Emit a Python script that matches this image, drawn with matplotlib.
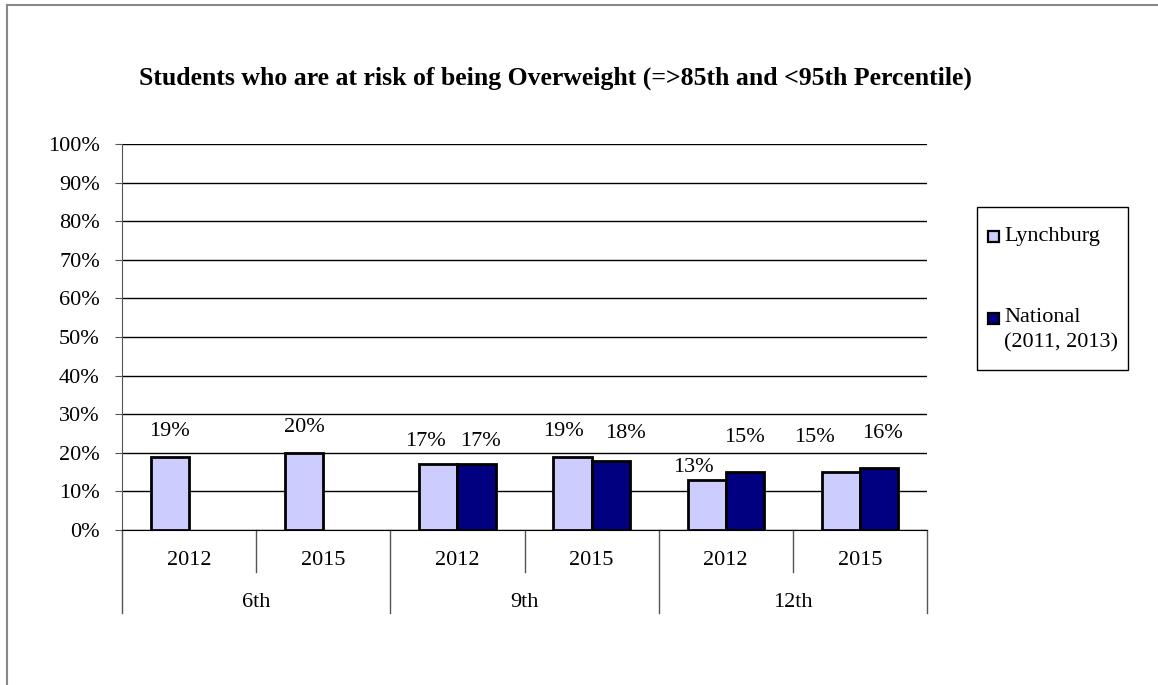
import matplotlib.pyplot as plt
import numpy as np
from matplotlib.patches import Rectangle
from matplotlib.lines import Line2D

plt.rcParams['font.family'] = ['Liberation Serif', 'DejaVu Serif']

# data
grades = ['6th', '9th', '12th']
years = ['2012', '2015', '2012', '2015', '2012', '2015']
lynchburg = [19, 20, 17, 19, 13, 15]
national = [np.nan, np.nan, 17, 18, 15, 16]
series_names = ['Lynchburg', 'National', '(2011, 2013)']
title = 'Students who are at risk of being Overweight (=>85th and <95th Percentile)'

light = '#CCCCFF'
dark = '#000080'
W, H = 1158, 685


def fx(px):
    return px / W


def fy(py):
    return 1 - py / H


fig = plt.figure(figsize=(W / 100, H / 100), dpi=100)
ax = fig.add_axes([fx(122), fy(530), 805 / W, 386 / H])

x = np.arange(len(years))
w = 0.285
b1 = ax.bar(x - w / 2, lynchburg, w, color=light, edgecolor='black', linewidth=2, zorder=3)
b2 = ax.bar(x + w / 2, national, w, color=dark, edgecolor='black', linewidth=2, zorder=3)

# value labels: Excel spread some of them sideways, mimic that (pixels)
nudge = {(0, 2): (-13, 23), (1, 2): (4, 23), (0, 3): (-9, 25), (1, 3): (15, 27),
         (0, 4): (-13, 12), (1, 4): (0, 35), (0, 5): (-26, 35), (1, 5): (3, 35)}
for s, (bars, vals) in enumerate([(b1, lynchburg), (b2, national)]):
    for i, (rect, v) in enumerate(zip(bars, vals)):
        if np.isnan(v):
            continue
        dx, dy = nudge.get((s, i), (0, 25))
        ax.annotate(f'{v:.0f}%', (rect.get_x() + rect.get_width() / 2, v),
                    xytext=(dx * 0.72, dy * 0.72), textcoords='offset points',
                    ha='center', va='center', fontsize=16)

ax.set_xlim(-0.5, len(years) - 0.5)
ax.set_ylim(0, 100)
ax.set_yticks(range(0, 101, 10))
ax.set_yticklabels([f'{t}%' for t in range(0, 101, 10)], fontsize=16)
ax.yaxis.grid(True, color='black', linewidth=1)
ax.set_axisbelow(True)
ax.set_xticks([])
ax.tick_params(axis='y', length=5, color='#555555', pad=11)
for sp in ['top', 'right']:
    ax.spines[sp].set_visible(False)
ax.spines['left'].set_color('#555555')
ax.spines['bottom'].set_color('black')

# two-level category axis
trans = ax.get_xaxis_transform()
for i, yr in enumerate(years):
    ax.text(i, -0.078, yr, transform=trans, ha='center', va='center', fontsize=16)
for g, name in enumerate(grades):
    ax.text(2 * g + 0.5, -0.188, name, transform=trans, ha='center', va='center', fontsize=16)
for b in np.arange(-0.5, len(years), 1.0):
    low = -0.215 if (b + 0.5) % 2 == 0 else -0.109
    ax.plot([b, b], [0, low], transform=trans, color='#555555', lw=1, clip_on=False)

fig.text(fx(555), fy(78), title, ha='center', va='center',
         fontsize=18.5, fontweight='bold')

# legend, drawn by hand to get Excel's layout
fig.add_artist(Rectangle((fx(977), fy(370)), fx(1128) - fx(977), fy(207) - fy(370),
                         transform=fig.transFigure, facecolor='white',
                         edgecolor='black', lw=1))
for col, top in [(light, 231), (dark, 313)]:
    fig.add_artist(Rectangle((fx(988), fy(top + 11)), fx(11), 11 / H,
                             transform=fig.transFigure, facecolor=col,
                             edgecolor='black', lw=1.6))
for name, yc in zip(series_names, [236, 318, 343]):
    fig.text(fx(1004), fy(yc), name, ha='left', va='center', fontsize=16)

# outer chart frame
fig.add_artist(Line2D([fx(7), fx(7)], [0, fy(5)], color='#888888', lw=1.5))
fig.add_artist(Line2D([fx(7), 1], [fy(5), fy(5)], color='#888888', lw=1.5))

fig.savefig('out.png', dpi=100)
